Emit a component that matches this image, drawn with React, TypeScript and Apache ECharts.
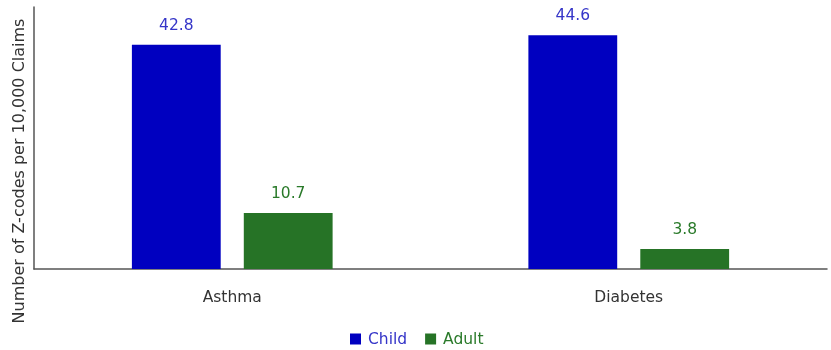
import React, { useEffect, useRef } from "react";
import * as echarts from "echarts";

const categories = ["Asthma", "Diabetes"];
const childValues = [42.8, 44.6];
const adultValues = [10.7, 3.8];
const seriesNames = ["Child", "Adult"];
const yAxisTitle = "Number of Z-codes per 10,000 Claims";

const FONT = "'DejaVu Sans', 'Open Sans', sans-serif";
const BLUE = "#0000c0";
const GREEN = "#267326";
const BLUE_TXT = "#3535c8";
const GREEN_TXT = "#2a7a2a";

export default function App() {
  const ref = useRef<HTMLDivElement>(null);
  useEffect(() => {
    if (!ref.current) return;
    const chart = echarts.init(ref.current, null, { renderer: "svg" });
    chart.setOption({
      animation: false,
      textStyle: { fontFamily: FONT },
      grid: { left: 34, right: 4, top: 7, bottom: 81, containLabel: false },
      legend: {
        bottom: -2,
        left: 345,
        itemWidth: 11,
        itemHeight: 11,
        itemGap: 18,
        icon: "rect",
        textStyle: { fontSize: 15.5, fontFamily: FONT, padding: [0, 0, 0, 2] },
        data: [
          { name: seriesNames[0], textStyle: { color: BLUE_TXT } },
          { name: seriesNames[1], textStyle: { color: GREEN_TXT } },
        ],
      },
      graphic: [
        {
          type: "text",
          x: 18,
          y: 171,
          rotation: Math.PI / 2,
          style: {
            text: yAxisTitle,
            fontSize: 16,
            fontFamily: FONT,
            fill: "#333",
            textAlign: "center",
            textVerticalAlign: "middle",
          },
        },
      ],
      xAxis: {
        type: "category",
        data: categories,
        axisLine: { lineStyle: { color: "#555", width: 1.5 } },
        axisTick: { show: false },
        axisLabel: { color: "#333", fontSize: 15.5, margin: 20, fontFamily: FONT },
      },
      yAxis: {
        type: "value",
        min: 0,
        max: 50,
        axisLine: { show: true, lineStyle: { color: "#555", width: 1.5 } },
        axisTick: { show: false },
        axisLabel: { show: false },
        splitLine: { show: false },
      },
      series: [
        {
          name: seriesNames[0],
          type: "bar",
          data: childValues,
          barWidth: "22.4%",
          barGap: "26%",
          itemStyle: { color: BLUE },
          label: {
            show: true,
            position: "top",
            distance: 12,
            color: BLUE_TXT,
            fontSize: 15.5,
            fontFamily: FONT,
            formatter: (p: any) => p.value.toFixed(1),
          },
        },
        {
          name: seriesNames[1],
          type: "bar",
          data: adultValues,
          barWidth: "22.4%",
          itemStyle: { color: GREEN },
          label: {
            show: true,
            position: "top",
            distance: 12,
            color: GREEN_TXT,
            fontSize: 15.5,
            fontFamily: FONT,
            formatter: (p: any) => p.value.toFixed(1),
          },
        },
      ],
    });
    return () => chart.dispose();
  }, []);
  return <div ref={ref} style={{ width: 831, height: 350, position: "fixed", left: 0, top: 0 }} />;
}
